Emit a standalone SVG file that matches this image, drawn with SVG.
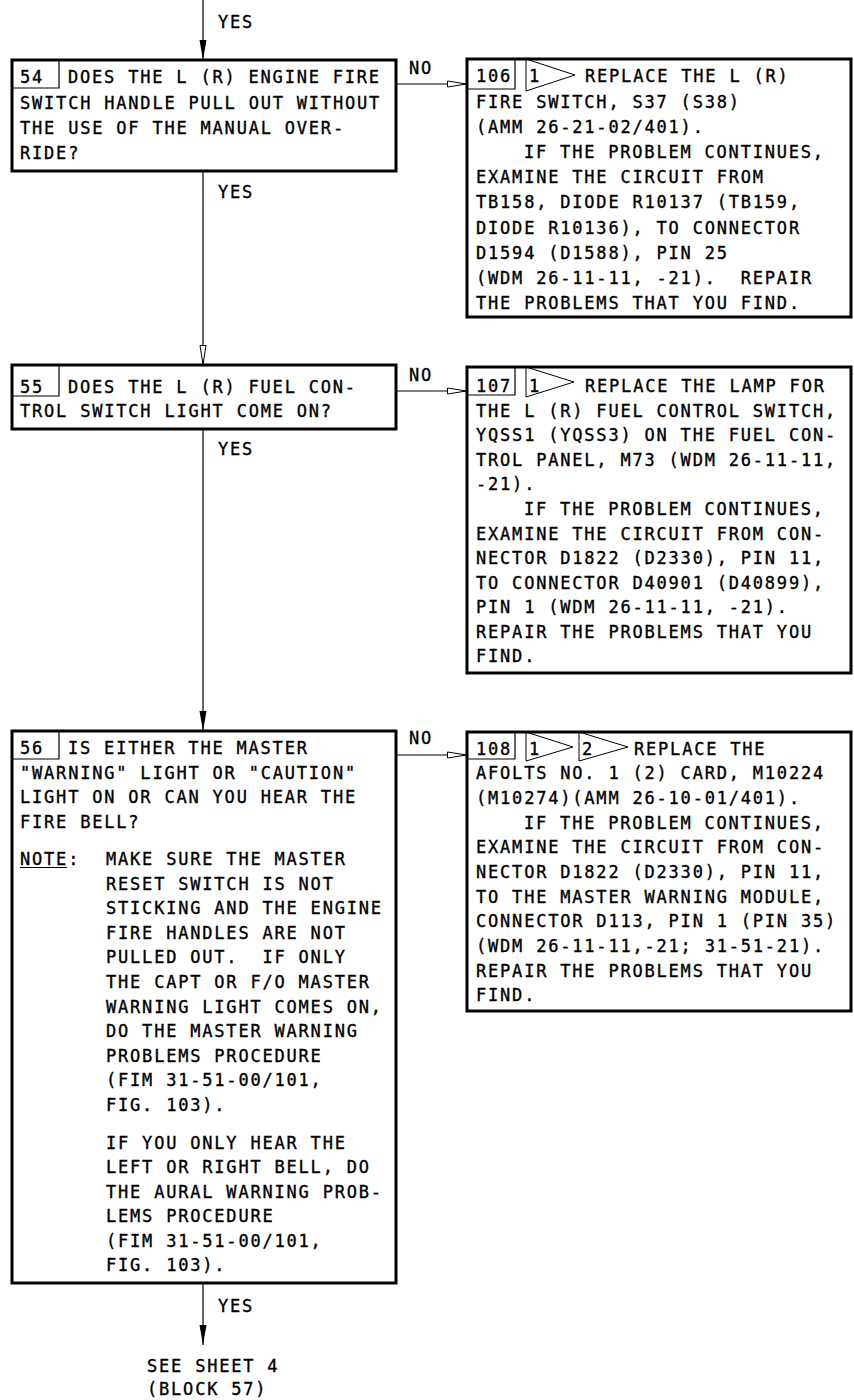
<svg xmlns="http://www.w3.org/2000/svg" width="854" height="1400" viewBox="0 0 854 1400" xml:space="preserve">
<style>
.t{font-family:"DejaVu Sans Mono","Liberation Mono",monospace;font-size:17px;letter-spacing:1.8px;fill:#000;stroke:#000;stroke-width:0.35px;white-space:pre}
.box{fill:#fff;stroke:#000;stroke-width:3}
.nb{fill:none;stroke:#000;stroke-width:1.2}
.flag{fill:none;stroke:#000;stroke-width:1}
.ln{fill:none;stroke:#000;stroke-width:1.2}
</style>
<defs>
<marker id="af" markerUnits="userSpaceOnUse" viewBox="0 0 20 8" refX="20" refY="4" markerWidth="20" markerHeight="8" orient="auto"><path d="M0,0.5 L20,4 L0,7.5 z" fill="#000"/></marker>
<marker id="ah" markerUnits="userSpaceOnUse" viewBox="0 0 20 8" refX="20" refY="4" markerWidth="20" markerHeight="8" orient="auto"><path d="M0.5,1 L19.5,4 L0.5,7 z" fill="#fff" stroke="#000" stroke-width="1"/></marker>
</defs>
<rect width="854" height="1400" fill="#fff"/>
<g id="connectors">
<line class="ln" x1="203" y1="0" x2="203" y2="60" marker-end="url(#af)"/>
<line class="ln" x1="203" y1="171" x2="203" y2="365" marker-end="url(#ah)"/>
<line class="ln" x1="203" y1="429" x2="203" y2="731" marker-end="url(#af)"/>
<line class="ln" x1="203" y1="1283" x2="203" y2="1345" marker-end="url(#af)"/>
<line class="ln" x1="396" y1="84" x2="467" y2="84" marker-end="url(#ah)"/>
<line class="ln" x1="396" y1="391" x2="467" y2="391" marker-end="url(#ah)"/>
<line class="ln" x1="396" y1="755" x2="467" y2="755" marker-end="url(#ah)"/>
<text class="t" x="218" y="28">YES</text>
<text class="t" x="218" y="198">YES</text>
<text class="t" x="218" y="455">YES</text>
<text class="t" x="218" y="1312">YES</text>
<text class="t" x="409" y="74">NO</text>
<text class="t" x="409" y="381">NO</text>
<text class="t" x="409" y="744">NO</text>
</g>
<g id="n54">
<rect class="box" x="12" y="60" width="384" height="111"/>
<path class="nb" d="M12,88 H59 V60"/>
<text class="t" x="20" y="83">54</text>
<text class="t" x="68" y="83">DOES THE L (R) ENGINE FIRE</text>
<text class="t" x="20" y="109">SWITCH HANDLE PULL OUT WITHOUT</text>
<text class="t" x="20" y="134">THE USE OF THE MANUAL OVER-</text>
<text class="t" x="20" y="159">RIDE?</text>
</g>
<g id="n106">
<rect class="box" x="467" y="59" width="384" height="258"/>
<path class="nb" d="M467,89 H515 V59"/>
<path class="flag" d="M526,59 V91 L575,75 Z"/>
<text class="t" x="476" y="82">106</text>
<text class="t" x="529" y="82">1</text>
<text class="t" x="585" y="82">REPLACE THE L (R)</text>
<text class="t" x="476" y="108">FIRE SWITCH, S37 (S38)</text>
<text class="t" x="476" y="133">(AMM 26-21-02/401).</text>
<text class="t" x="524" y="158">IF THE PROBLEM CONTINUES,</text>
<text class="t" x="476" y="183">EXAMINE THE CIRCUIT FROM</text>
<text class="t" x="476" y="208">TB158, DIODE R10137 (TB159,</text>
<text class="t" x="476" y="234">DIODE R10136), TO CONNECTOR</text>
<text class="t" x="476" y="259">D1594 (D1588), PIN 25</text>
<text class="t" x="476" y="284">(WDM 26-11-11, -21).  REPAIR</text>
<text class="t" x="476" y="309">THE PROBLEMS THAT YOU FIND.</text>
</g>
<g id="n55">
<rect class="box" x="12" y="365" width="384" height="64"/>
<path class="nb" d="M12,396 H59 V365"/>
<text class="t" x="20" y="393">55</text>
<text class="t" x="68" y="393">DOES THE L (R) FUEL CON-</text>
<text class="t" x="20" y="417">TROL SWITCH LIGHT COME ON?</text>
</g>
<g id="n107">
<rect class="box" x="467" y="367" width="384" height="306"/>
<path class="nb" d="M467,395 H515 V367"/>
<path class="flag" d="M526,367 V397 L574,382 Z"/>
<text class="t" x="476" y="392">107</text>
<text class="t" x="529" y="392">1</text>
<text class="t" x="585" y="392">REPLACE THE LAMP FOR</text>
<text class="t" x="476" y="417">THE L (R) FUEL CONTROL SWITCH,</text>
<text class="t" x="476" y="441">YQSS1 (YQSS3) ON THE FUEL CON-</text>
<text class="t" x="476" y="466">TROL PANEL, M73 (WDM 26-11-11,</text>
<text class="t" x="476" y="490">-21).</text>
<text class="t" x="524" y="515">IF THE PROBLEM CONTINUES,</text>
<text class="t" x="476" y="540">EXAMINE THE CIRCUIT FROM CON-</text>
<text class="t" x="476" y="564">NECTOR D1822 (D2330), PIN 11,</text>
<text class="t" x="476" y="589">TO CONNECTOR D40901 (D40899),</text>
<text class="t" x="476" y="613">PIN 1 (WDM 26-11-11, -21).</text>
<text class="t" x="476" y="638">REPAIR THE PROBLEMS THAT YOU</text>
<text class="t" x="476" y="662">FIND.</text>
</g>
<g id="n56">
<rect class="box" x="12" y="731" width="384" height="552"/>
<path class="nb" d="M12,759 H59 V731"/>
<text class="t" x="20" y="754">56</text>
<text class="t" x="68" y="754">IS EITHER THE MASTER</text>
<text class="t" x="20" y="779">"WARNING" LIGHT OR "CAUTION"</text>
<text class="t" x="20" y="803">LIGHT ON OR CAN YOU HEAR THE</text>
<text class="t" x="20" y="828">FIRE BELL?</text>
<text class="t" x="20" y="865">NOTE:</text>
<line x1="20" y1="867.5" x2="67" y2="867.5" stroke="#000" stroke-width="1.2"/>
<text class="t" x="106" y="865">MAKE SURE THE MASTER</text>
<text class="t" x="106" y="890">RESET SWITCH IS NOT</text>
<text class="t" x="106" y="914">STICKING AND THE ENGINE</text>
<text class="t" x="106" y="939">FIRE HANDLES ARE NOT</text>
<text class="t" x="106" y="963">PULLED OUT.  IF ONLY</text>
<text class="t" x="106" y="988">THE CAPT OR F/O MASTER</text>
<text class="t" x="106" y="1013">WARNING LIGHT COMES ON,</text>
<text class="t" x="106" y="1037">DO THE MASTER WARNING</text>
<text class="t" x="106" y="1062">PROBLEMS PROCEDURE</text>
<text class="t" x="106" y="1086">(FIM 31-51-00/101,</text>
<text class="t" x="106" y="1111">FIG. 103).</text>
<text class="t" x="106" y="1149">IF YOU ONLY HEAR THE</text>
<text class="t" x="106" y="1173">LEFT OR RIGHT BELL, DO</text>
<text class="t" x="106" y="1198">THE AURAL WARNING PROB-</text>
<text class="t" x="106" y="1222">LEMS PROCEDURE</text>
<text class="t" x="106" y="1247">(FIM 31-51-00/101,</text>
<text class="t" x="106" y="1271">FIG. 103).</text>
</g>
<g id="n108">
<rect class="box" x="467" y="732" width="384" height="279"/>
<path class="nb" d="M467,759 H515 V732"/>
<path class="flag" d="M526,732 V761 L573,747 Z"/>
<path class="flag" d="M579,732 V761 L628,747 Z"/>
<text class="t" x="476" y="755">108</text>
<text class="t" x="529" y="755">1</text>
<text class="t" x="582" y="755">2</text>
<text class="t" x="634" y="755">REPLACE THE</text>
<text class="t" x="476" y="779">AFOLTS NO. 1 (2) CARD, M10224</text>
<text class="t" x="476" y="804">(M10274)(AMM 26-10-01/401).</text>
<text class="t" x="524" y="829">IF THE PROBLEM CONTINUES,</text>
<text class="t" x="476" y="853">EXAMINE THE CIRCUIT FROM CON-</text>
<text class="t" x="476" y="878">NECTOR D1822 (D2330), PIN 11,</text>
<text class="t" x="476" y="903">TO THE MASTER WARNING MODULE,</text>
<text class="t" x="476" y="927">CONNECTOR D113, PIN 1 (PIN 35)</text>
<text class="t" x="476" y="952">(WDM 26-11-11,-21; 31-51-21).</text>
<text class="t" x="476" y="977">REPAIR THE PROBLEMS THAT YOU</text>
<text class="t" x="476" y="1001">FIND.</text>
</g>
<g id="sheet4">
<text class="t" x="147" y="1372">SEE SHEET 4</text>
<text class="t" x="147" y="1395">(BLOCK 57)</text>
</g>
</svg>
